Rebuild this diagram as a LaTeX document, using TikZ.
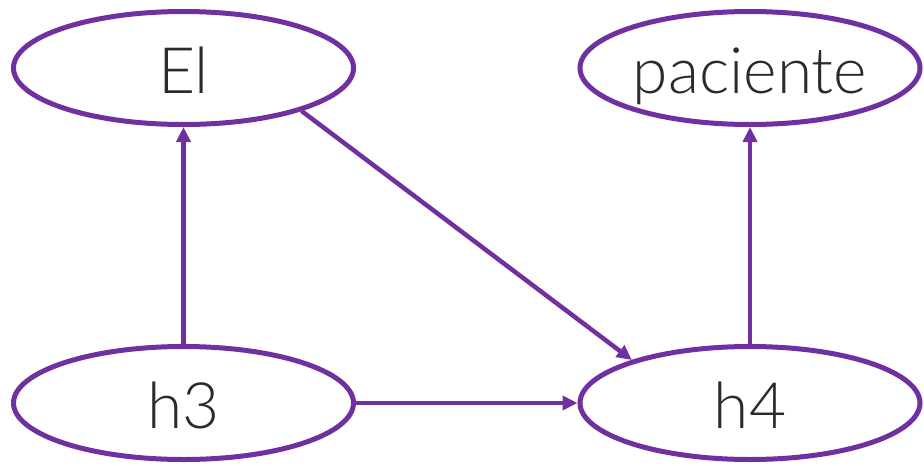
\documentclass[tikz,border=0pt]{standalone}
\usepackage{fontspec}
\setmainfont{Lato Light}
\usetikzlibrary{arrows.meta,shapes.geometric}
\definecolor{edgepurple}{HTML}{7030A0}
\definecolor{labelgray}{HTML}{2B2B2B}
\begin{document}
\begin{tikzpicture}[x=1pt,y=-1pt,
  state/.style={ellipse, draw=edgepurple, line width=5pt,
    minimum width=340pt, minimum height=113pt, inner sep=0pt,
    text=labelgray, font=\fontsize{64}{64}\selectfont,
    text height=50pt, text depth=0pt},
  link/.style={draw=edgepurple, line width=4.5pt,
    -{Triangle[length=15pt,width=14pt]}}]
\useasboundingbox (0,0) rectangle (924,466);
% variables
\node[state] (el)  at (183.5,68)  {El};
\node[state] (pac) at (750,68)    {paciente};
\node[state] (h3)  at (183.5,403) {h3};
\node[state] (h4)  at (750,403)   {h4};
% dependencies
\draw[link] (h3) -- (el);
\draw[link] (el.-20) -- (h4.160);
\draw[link] (h3) -- (h4);
\draw[link] (h4) -- (pac);
\end{tikzpicture}
\end{document}
